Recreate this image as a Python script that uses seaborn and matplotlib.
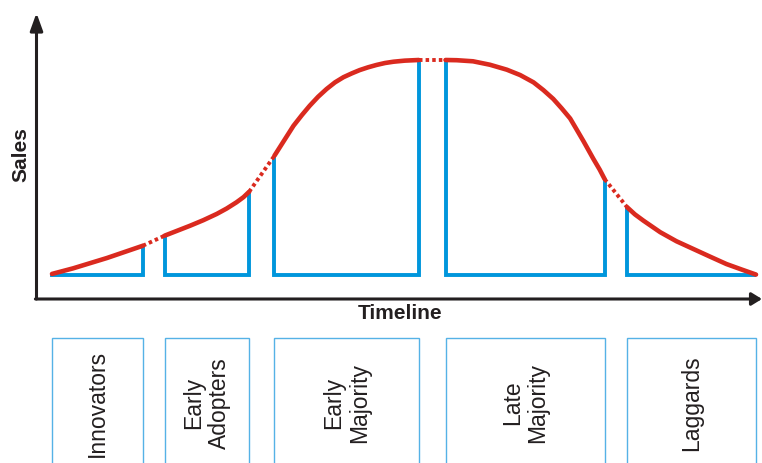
import matplotlib
matplotlib.use("Agg")
import matplotlib.pyplot as plt
from matplotlib.patches import Rectangle
import pandas as pd
import seaborn as sns

# Adoption segments along the timeline
segments = ["Innovators", "Early\nAdopters", "Early\nMajority", "Late\nMajority", "Laggards"]
seg_start = [0.0, 16.0, 31.6, 55.9, 81.7]
seg_end = [12.9, 28.0, 52.1, 78.5, 100.0]

# Sales curve, one piece per segment (timeline, sales)
innov_t = [0.0, 3.0, 7.8, 12.9]
innov_s = [0.5, 3.1, 7.9, 13.6]
early_ad_t = [16.0, 19.6, 21.5, 23.4, 24.8, 26.2, 27.2, 28.0]
early_ad_s = [18.3, 22.9, 25.5, 28.4, 30.9, 33.8, 36.2, 38.7]
early_maj_t = [31.6, 32.9, 34.3, 35.5, 36.6, 37.8, 39.0, 40.2, 41.4, 42.6,
               43.7, 44.9, 46.1, 47.3, 48.5, 50.1, 52.1]
early_maj_s = [55.5, 62.2, 69.4, 74.4, 78.7, 82.9, 86.5, 89.6, 92.0, 93.8,
               95.3, 96.6, 97.7, 98.6, 99.2, 99.7, 100.0]
late_maj_t = [55.9, 57.5, 59.8, 62.2, 64.6, 66.5, 68.4, 69.8, 71.2, 72.4,
              73.6, 74.5, 75.5, 76.2, 76.9, 77.8, 78.5]
late_maj_s = [100.0, 99.9, 99.4, 97.8, 95.5, 93.0, 89.6, 86.0, 81.9, 77.5,
              72.8, 67.8, 62.2, 58.1, 54.0, 49.0, 44.6]
lagg_t = [81.7, 82.8, 84.0, 86.4, 88.7, 91.1, 93.5, 95.8, 98.0, 100.0]
lagg_s = [31.5, 28.2, 25.3, 19.9, 15.7, 12.1, 8.5, 5.1, 2.5, 0.2]

curve_t = [innov_t, early_ad_t, early_maj_t, late_maj_t, lagg_t]
curve_s = [innov_s, early_ad_s, early_maj_s, late_maj_s, lagg_s]

RED = "#da2a1f"
BLUE = "#0096dc"
BOX_BLUE = "#55b2e6"
INK = "#231f20"

# Canvas geometry (pixels) -> data scale
W, H, DPI = 762, 464, 100
PX_X0, PX_PER_X = 52.0, 7.04
PX_Y0, PX_PER_Y = 276.0, 2.15


def to_data(px, py):
    return (px - PX_X0) / PX_PER_X, (PX_Y0 - py) / PX_PER_Y


sns.set_theme(style="white")
plt.rcParams["font.family"] = ["Liberation Sans", "DejaVu Sans"]

fig = plt.figure(figsize=(W / DPI, H / DPI), dpi=DPI)
ax = fig.add_axes([0, 0, 1, 1])
x_lo, y_lo = to_data(0, H)
x_hi, y_hi = to_data(W, 0)
ax.set_xlim(x_lo, x_hi)
ax.set_ylim(y_lo, y_hi)

# Blue outline under each curve piece
rows = []
for i, (t, s) in enumerate(zip(curve_t, curve_s)):
    pts = [(seg_start[i], s[0]), (seg_start[i], 0.0), (seg_end[i], 0.0), (seg_end[i], s[-1])]
    for px, py in pts:
        rows.append({"timeline": px, "sales": py, "seg": i})
outline = pd.DataFrame(rows)
sns.lineplot(data=outline, x="timeline", y="sales", units="seg", estimator=None,
             sort=False, color=BLUE, lw=2.8, solid_joinstyle="miter",
             solid_capstyle="butt", ax=ax, zorder=2)

# Solid sales curve pieces
curve = pd.DataFrame({
    "timeline": [v for t in curve_t for v in t],
    "sales": [v for s in curve_s for v in s],
    "seg": [i for i, t in enumerate(curve_t) for _ in t],
})
sns.lineplot(data=curve, x="timeline", y="sales", units="seg", estimator=None,
             sort=False, color=RED, lw=3.3, solid_capstyle="round",
             solid_joinstyle="round", ax=ax, zorder=4)

# Dotted bridges between the pieces
gaps = pd.DataFrame({
    "timeline": [v for i in range(4) for v in (curve_t[i][-1], curve_t[i + 1][0])],
    "sales": [v for i in range(4) for v in (curve_s[i][-1], curve_s[i + 1][0])],
    "gap": [i for i in range(4) for _ in range(2)],
})
sns.lineplot(data=gaps, x="timeline", y="sales", units="gap", estimator=None,
             sort=False, color=RED, lw=2.8, linestyle=(0, (0.9, 0.8)),
             ax=ax, zorder=4)

# Axes with arrow heads
origin = to_data(36.5, 300)
y_tip = to_data(36.5, 14)
x_tip = to_data(762, 300)
ax.annotate("", xy=y_tip, xytext=origin,
            arrowprops=dict(arrowstyle="-|>,head_length=1.05,head_width=0.38",
                            mutation_scale=10, lw=2.2, color=INK,
                            shrinkA=0, shrinkB=0), zorder=5)
ax.annotate("", xy=x_tip, xytext=to_data(35.4, 300),
            arrowprops=dict(arrowstyle="-|>,head_length=0.62,head_width=0.38",
                            mutation_scale=10, lw=2.2, color=INK,
                            shrinkA=0, shrinkB=0), zorder=5)

ax.text(*to_data(21, 155), "Sales", rotation=90, ha="center", va="center",
        fontsize=15, fontweight="bold", color=INK)
ax.text(*to_data(400, 313.5), "Timeline", ha="center", va="center",
        fontsize=15, fontweight="bold", color=INK)

# Segment label boxes under the axis
box_top = to_data(0, 339)[1]
box_bottom = to_data(0, 480)[1]
label_y = to_data(0, 403)[1]
for name, x0, x1 in zip(segments, seg_start, seg_end):
    ax.add_patch(Rectangle((x0, box_bottom), x1 - x0, box_top - box_bottom,
                           fill=False, edgecolor=BOX_BLUE, lw=1.0, zorder=3))
    ax.text((x0 + x1) / 2, label_y, name, rotation=90, ha="center", va="center",
            multialignment="center", fontsize=16.5, color=INK, linespacing=1.15)

ax.set_axis_off()
fig.savefig("out.png", dpi=DPI)
